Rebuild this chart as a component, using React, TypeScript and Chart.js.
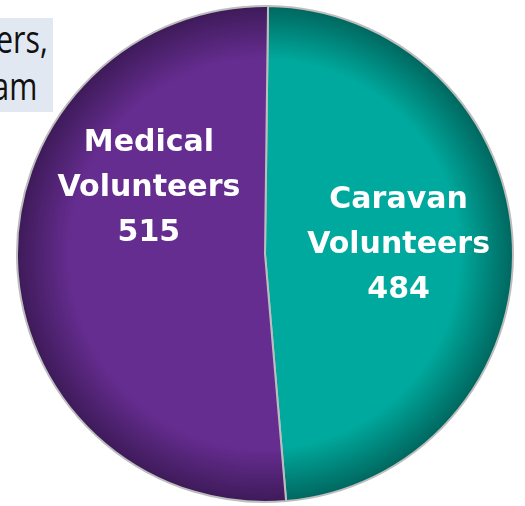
import React, { useEffect, useRef } from "react";
import { Chart, registerables } from "chart.js";

Chart.register(...registerables);

const categories = ["Caravan Volunteers", "Medical Volunteers"];
const labelLines = [["Caravan", "Volunteers"], ["Medical", "Volunteers"]];
const values = [484, 515];
const baseColors = ["#00a99d", "#662d91"];
const rimColors = ["#00665e", "#3d1a58"];
const labelAngleShift = [-2, 32];
const noteLines = ["ers,", "am"];

const labelPlugin = {
  id: "sliceLabels",
  afterDatasetsDraw(chart: any) {
    const meta = chart.getDatasetMeta(0);
    const ctx = chart.ctx;
    ctx.save();
    ctx.fillStyle = "#ffffff";
    ctx.textAlign = "center";
    ctx.textBaseline = "middle";
    ctx.font = "bold 30px 'DejaVu Sans'";
    meta.data.forEach((arc: any, i: number) => {
      const { x, y, startAngle, endAngle, outerRadius } = arc.getProps(
        ["x", "y", "startAngle", "endAngle", "outerRadius"],
        true
      );
      const mid = (startAngle + endAngle) / 2 + (labelAngleShift[i] * Math.PI) / 180;
      const r = outerRadius * 0.54;
      const cx = x + Math.cos(mid) * r;
      const cy = y + Math.sin(mid) * r + 1;
      const lines = [...labelLines[i], String(values[i])];
      const lh = 45;
      lines.forEach((t, j) => {
        ctx.fillText(t, cx, cy + (j - (lines.length - 1) / 2) * lh);
      });
    });
    ctx.restore();
  },
};

export default function App() {
  const ref = useRef<HTMLCanvasElement>(null);
  useEffect(() => {
    document.body.style.margin = "0";
    const chart = new Chart(ref.current!, {
      type: "pie",
      data: {
        labels: categories,
        datasets: [
          {
            data: values,
            backgroundColor: (c: any) => {
              const chart = c.chart;
              const area = chart.chartArea;
              const i = c.dataIndex;
              if (!area) return baseColors[i];
              const cx = (area.left + area.right) / 2;
              const cy = (area.top + area.bottom) / 2;
              const r = Math.min(area.width, area.height) / 2;
              const g = chart.ctx.createRadialGradient(cx, cy, 0, cx, cy, r);
              g.addColorStop(0, baseColors[i]);
              g.addColorStop(0.78, baseColors[i]);
              g.addColorStop(1, rimColors[i]);
              return g;
            },
            borderColor: "#bdbdbd",
            borderWidth: 2,
            hoverOffset: 0,
          },
        ],
      },
      options: {
        animation: false,
        responsive: false,
        rotation: 0.7,
        layout: { padding: { left: 16, right: 11, top: 5, bottom: 3 } },
        plugins: { legend: { display: false }, tooltip: { enabled: false } },
      },
      plugins: [labelPlugin],
    });
    return () => chart.destroy();
  }, []);

  const lineStyle: React.CSSProperties = {
    position: "absolute",
    transform: "scaleX(0.8)",
    transformOrigin: "right center",
    lineHeight: "38px",
    whiteSpace: "nowrap",
  };

  return (
    <div style={{ position: "relative", width: 525, height: 506 }}>
      <div
        style={{
          position: "absolute",
          left: 0,
          top: 18,
          width: 53,
          height: 94,
          background: "#e1e8f1",
          fontFamily: "'Open Sans', sans-serif",
          fontSize: 38,
          color: "#111",
          overflow: "hidden",
        }}
      >
        <div style={{ ...lineStyle, right: 5, top: 1 }}>{noteLines[0]}</div>
        <div style={{ ...lineStyle, right: 16, top: 48 }}>{noteLines[1]}</div>
      </div>
      <canvas
        ref={ref}
        width={525}
        height={506}
        style={{ position: "absolute", left: 0, top: 0 }}
      />
    </div>
  );
}
